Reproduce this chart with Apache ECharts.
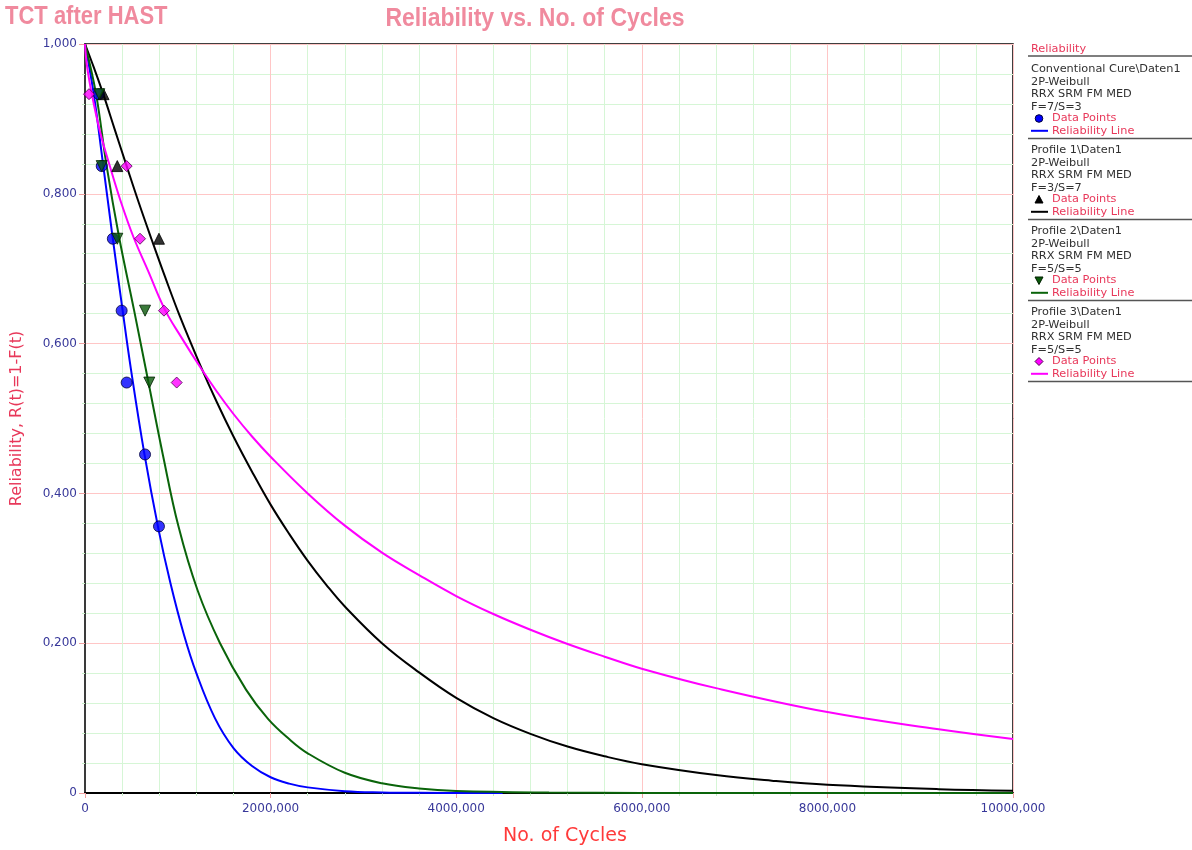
<!DOCTYPE html>
<html>
<head>
<meta charset="utf-8">
<title>TCT after HAST – Reliability vs. No. of Cycles</title>
<script src="https://cdn.jsdelivr.net/npm/echarts@6/dist/echarts.min.js"></script>
<style>
  html, body { margin: 0; padding: 0; background: #ffffff; }
  #chart { width: 1192px; height: 850px; }
</style>
</head>
<body>
<div id="chart"></div>
<script>
// ---- Tick values and their printed labels ----
const xTickValues = [0, 2000000, 4000000, 6000000, 8000000, 10000000];
const xTickLabels = ['0', '2000,000', '4000,000', '6000,000', '8000,000', '10000,000'];
const yTickValues = [0, 0.2, 0.4, 0.6, 0.8, 1.0];
const yTickLabels = ['0', '0,200', '0,400', '0,600', '0,800', '1,000'];

// ---- Data points: [cycles, reliability (median rank)] ----
const convCurePoints = [[150000, 0.933], [180000, 0.837], [300000, 0.740], [395000, 0.644], [449000, 0.548], [647000, 0.452], [797000, 0.356]];
const profile1Points = [[200000, 0.933], [348000, 0.837], [797000, 0.740]];
const profile2Points = [[154000, 0.933], [180000, 0.837], [348000, 0.740], [647000, 0.644], [693000, 0.548]];
const profile3Points = [[43000, 0.933], [449000, 0.837], [593000, 0.740], [851000, 0.644], [988000, 0.548]];

// ---- Fitted reliability lines: [cycles, R(t)] ----
const convCureLine = [[0, 1.0], [92000, 0.935], [189000, 0.845], [291000, 0.748], [399000, 0.65], [496000, 0.565],
  [641000, 0.452], [792000, 0.352], [921000, 0.28], [1067000, 0.211], [1200000, 0.16], [1400000, 0.1],
  [1600000, 0.06], [1800000, 0.036], [2000000, 0.021], [2200000, 0.0125], [2400000, 0.0075], [2800000, 0.0025],
  [3200000, 0.0008], [3600000, 0.0002], [4500000, 0]];
const profile1Line = [[0, 1.0], [100000, 0.967], [197000, 0.933], [320000, 0.886], [449000, 0.837], [580000, 0.788],
  [718000, 0.739], [860000, 0.69], [1024000, 0.636], [1239000, 0.572], [1420000, 0.522], [1600000, 0.476],
  [1800000, 0.429], [2000000, 0.385], [2200000, 0.346], [2400000, 0.31], [2600000, 0.278], [2800000, 0.249],
  [3200000, 0.2], [3600000, 0.161], [4000000, 0.127], [4400000, 0.1], [4800000, 0.079], [5200000, 0.062],
  [5600000, 0.049], [6000000, 0.0385], [6800000, 0.024], [7400000, 0.0165], [8000000, 0.011], [9200000, 0.0051],
  [10000000, 0.003]];
const profile2Line = [[0, 1.0], [118000, 0.934], [232000, 0.838], [366000, 0.743], [528000, 0.645], [684000, 0.548],
  [840000, 0.451], [1007000, 0.356], [1212000, 0.271], [1455000, 0.2], [1735000, 0.138], [1972000, 0.099],
  [2200000, 0.072], [2400000, 0.053], [2800000, 0.027], [3200000, 0.013], [3600000, 0.006], [4000000, 0.0027],
  [5000000, 0.0006], [6000000, 0.0001], [10000000, 0]];
const profile3Line = [[0, 1.0], [20000, 0.972], [72000, 0.934], [160000, 0.884], [270000, 0.836], [390000, 0.788],
  [520000, 0.743], [680000, 0.697], [862000, 0.645], [1040000, 0.608], [1239000, 0.569], [1420000, 0.536],
  [1600000, 0.506], [1800000, 0.476], [2000000, 0.449], [2400000, 0.4], [2800000, 0.357], [3200000, 0.321],
  [3600000, 0.291], [4000000, 0.263], [4400000, 0.239], [4800000, 0.218], [5200000, 0.199], [5600000, 0.182],
  [6000000, 0.166], [6800000, 0.14], [8000000, 0.108], [9200000, 0.085], [10000000, 0.072]];

// ---- Legend texts ----
const groupNames = ['Conventional Cure\\Daten1', 'Profile 1\\Daten1', 'Profile 2\\Daten1', 'Profile 3\\Daten1'];
const fitModel = '2P-Weibull';
const fitMethod = 'RRX SRM FM MED';
const failSusp = ['F=7/S=3', 'F=3/S=7', 'F=5/S=5', 'F=5/S=5'];

// ---- Styling ----
const lineColors = ['#0000ff', '#000000', '#0a640a', '#ff00ff'];
const markerFill = ['#0000ff', '#000000', '#0a5a0a', '#ff00ff'];
const markerEdge = ['#00003a', '#000000', '#002000', '#500050'];
const markerSymbol = ['circle', 'triangle', 'triangle', 'diamond'];
const markerRotate = [0, 0, 180, 0];
const markerSize = [11, 11, 11, 11];

const pink = '#f08a9e';
const crimson = '#e8385a';
const tickBlue = '#38389a';
const majorGrid = '#ffc6c6';
const minorGrid = '#d6f6d6';
const uiFont = 'DejaVu Sans';

const chart = echarts.init(document.getElementById('chart'), null, { renderer: 'canvas' });

const lineSets = [convCureLine, profile1Line, profile2Line, profile3Line];
const pointSets = [convCurePoints, profile1Points, profile2Points, profile3Points];

const series = [];
lineSets.forEach((d, i) => {
  series.push({
    name: groupNames[i] + ' line',
    type: 'line',
    data: d,
    showSymbol: false,
    smooth: 0.4,
    lineStyle: { color: lineColors[i], width: 2 },
    z: 3,
    silent: true
  });
});
pointSets.forEach((d, i) => {
  series.push({
    name: groupNames[i] + ' points',
    type: 'scatter',
    data: d,
    symbol: markerSymbol[i],
    symbolRotate: markerRotate[i],
    symbolSize: markerSize[i],
    itemStyle: { color: markerFill[i], borderColor: markerEdge[i], borderWidth: 1 },
    z: 5 + i,
    silent: true
  });
});

// ---- Legend panel on the right, built from graphic elements ----
const graphic = [];
function txt(x, y, s, color, font, extra) {
  return Object.assign({
    type: 'text', x: x, y: y,
    style: { text: s, fill: color, font: font, textAlign: 'left', textVerticalAlign: 'middle', align: 'left', verticalAlign: 'middle' },
    silent: true
  }, extra || {});
}
function hline(x1, x2, y, color, w) {
  return { type: 'line', shape: { x1: x1, y1: y, x2: x2, y2: y }, style: { stroke: color, lineWidth: w }, silent: true };
}
const legFont = '11.3px "DejaVu Sans"';
const legX = 1031;
graphic.push(txt(legX, 49, 'Reliability', crimson, legFont));
graphic.push(hline(1028, 1192, 56, '#555555', 1.5));
groupNames.forEach((g, i) => {
  const y0 = 69 + i * 81;
  graphic.push(txt(legX, y0, g, '#303030', legFont));
  graphic.push(txt(legX, y0 + 12.6, fitModel, '#303030', legFont));
  graphic.push(txt(legX, y0 + 25.2, fitMethod, '#303030', legFont));
  graphic.push(txt(legX, y0 + 37.8, failSusp[i], '#303030', legFont));
  const my = y0 + 49.5, mx = 1039;
  if (markerSymbol[i] === 'circle') {
    graphic.push({ type: 'circle', shape: { cx: mx, cy: my, r: 3.8 }, style: { fill: markerFill[i], stroke: markerEdge[i], lineWidth: 1 }, silent: true });
  } else if (markerSymbol[i] === 'diamond') {
    graphic.push({ type: 'polygon', shape: { points: [[mx, my - 4], [mx + 4, my], [mx, my + 4], [mx - 4, my]] }, style: { fill: markerFill[i], stroke: markerEdge[i], lineWidth: 1 }, silent: true });
  } else if (markerRotate[i] === 180) {
    graphic.push({ type: 'polygon', shape: { points: [[mx - 4, my - 3.5], [mx + 4, my - 3.5], [mx, my + 4]] }, style: { fill: markerFill[i], stroke: markerEdge[i], lineWidth: 1 }, silent: true });
  } else {
    graphic.push({ type: 'polygon', shape: { points: [[mx, my - 4], [mx + 4, my + 3.5], [mx - 4, my + 3.5]] }, style: { fill: markerFill[i], stroke: markerEdge[i], lineWidth: 1 }, silent: true });
  }
  graphic.push(txt(1052, my, 'Data Points', crimson, legFont));
  graphic.push(hline(1031, 1048, y0 + 61.8, lineColors[i], 2));
  graphic.push(txt(1052, y0 + 61.8, 'Reliability Line', crimson, legFont));
  graphic.push(hline(1028, 1192, y0 + 69.5, '#555555', 1.5));
});

// ---- Titles and x-axis caption ----
graphic.push(txt(5, 20, 'TCT after HAST', pink, 'bold 22px "Liberation Sans"', { scaleY: 1.15, originX: 5, originY: 20 }));
graphic.push({
  type: 'text', x: 535, y: 22,
  style: { text: 'Reliability vs. No. of Cycles', fill: pink, font: 'bold 23px "Liberation Sans"', textAlign: 'center', textVerticalAlign: 'middle', align: 'center', verticalAlign: 'middle' },
  scaleY: 1.15, originX: 535, originY: 22, silent: true
});
graphic.push({
  type: 'text', x: 565, y: 836,
  style: { text: 'No. of Cycles', fill: '#ff3a3a', font: '19px "DejaVu Sans"', textAlign: 'center', textVerticalAlign: 'middle', align: 'center', verticalAlign: 'middle' },
  silent: true
});

const option = {
  animation: false,
  backgroundColor: '#ffffff',
  grid: {
    left: 85, right: 179, top: 44, bottom: 57,
    containLabel: false, outerBoundsMode: 'none',
    show: true, borderColor: '#000000', borderWidth: 1.5, backgroundColor: 'transparent'
  },
  xAxis: {
    type: 'value',
    min: 0, max: 10000000, interval: 2000000,
    axisLine: { show: true, onZero: false, lineStyle: { color: '#000000', width: 2 } },
    axisTick: { show: true, length: 5, lineStyle: { color: '#f0a0a0' } },
    minorTick: { show: true, splitNumber: 5, length: 3, lineStyle: { color: '#c8eec8' } },
    splitLine: { show: true, lineStyle: { color: majorGrid, width: 1 } },
    minorSplitLine: { show: true, lineStyle: { color: minorGrid, width: 1 } },
    axisLabel: {
      color: tickBlue, fontFamily: uiFont, fontSize: 12, margin: 10,
      formatter: v => { const k = xTickValues.indexOf(v); return k >= 0 ? xTickLabels[k] : ''; }
    }
  },
  yAxis: {
    type: 'value',
    min: 0, max: 1, interval: 0.2,
    name: 'Reliability, R(t)=1-F(t)',
    nameLocation: 'middle',
    nameGap: 60,
    nameTextStyle: { color: crimson, fontFamily: uiFont, fontSize: 16 },
    axisLine: { show: true, onZero: false, lineStyle: { color: '#3a3a3a', width: 2 } },
    axisTick: { show: true, length: 6, lineStyle: { color: '#f0a0a0' } },
    minorTick: { show: true, splitNumber: 5, length: 3, lineStyle: { color: '#c8eec8' } },
    splitLine: { show: true, lineStyle: { color: majorGrid, width: 1 } },
    minorSplitLine: { show: true, lineStyle: { color: minorGrid, width: 1 } },
    axisLabel: {
      color: tickBlue, fontFamily: uiFont, fontSize: 12, margin: 8,
      formatter: v => {
        const k = yTickValues.findIndex(t => Math.abs(t - v) < 1e-9);
        return k >= 0 ? yTickLabels[k] : '';
      }
    }
  },
  series: series,
  graphic: graphic
};

chart.setOption(option);
</script>
</body>
</html>
